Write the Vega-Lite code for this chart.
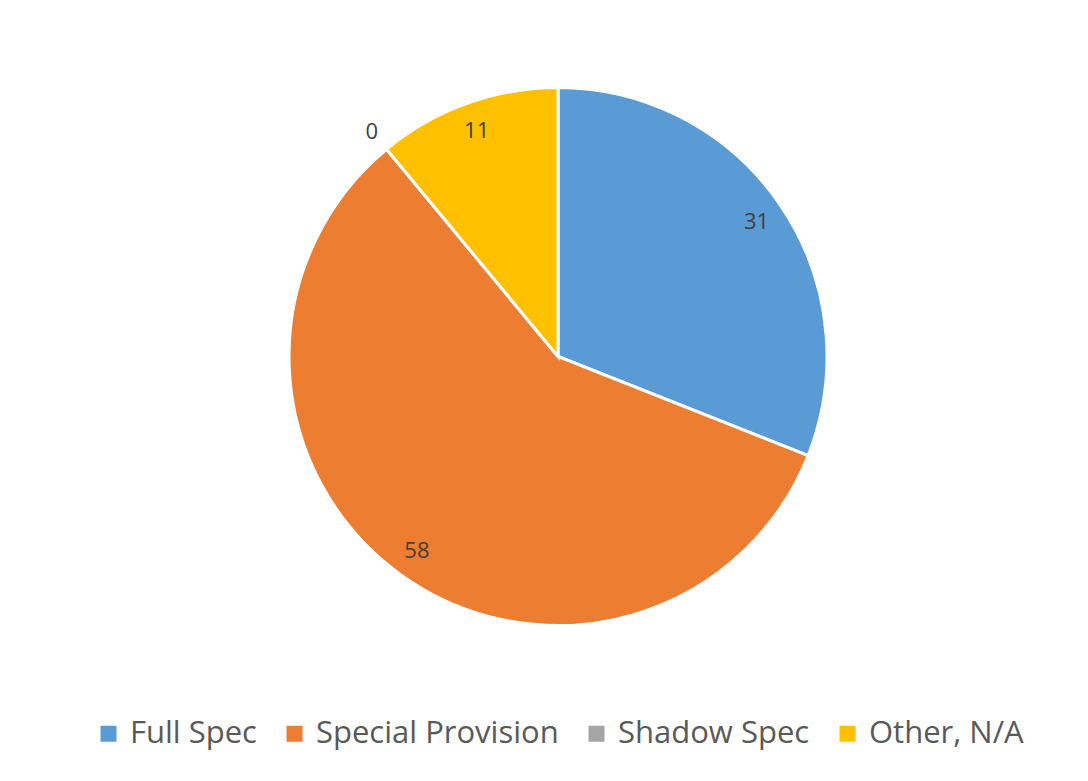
{
  "$schema": "https://vega.github.io/schema/vega-lite/v6.json",
  "autosize": {"type": "fit", "contains": "padding"},
  "width": 1088,
  "height": 781,
  "padding": {"left": 22, "top": 16, "right": 0, "bottom": 4},
  "background": "white",
  "config": {
    "view": {"stroke": null},
    "font": "Open Sans"
  },
  "data": {
    "values": [
      {"category": "Full Spec", "value": 31, "rank": 1},
      {"category": "Special Provision", "value": 58, "rank": 2},
      {"category": "Shadow Spec", "value": 0, "rank": 3},
      {"category": "Other, N/A", "value": 11, "rank": 4}
    ]
  },
  "encoding": {
    "theta": {"field": "value", "type": "quantitative", "stack": true},
    "order": {"field": "rank", "type": "quantitative"}
  },
  "layer": [
    {
      "mark": {
        "type": "arc",
        "outerRadius": 269,
        "stroke": "white",
        "strokeWidth": 3,
        "x": {"expr": "width/2 + 3"},
        "y": {"expr": "height/2 - 40"}
      },
      "encoding": {
        "color": {
          "field": "category",
          "type": "nominal",
          "scale": {
            "domain": ["Full Spec", "Special Provision", "Shadow Spec", "Other, N/A"],
            "range": ["#5B9BD5", "#ED7D31", "#A5A5A5", "#FFC000"]
          },
          "legend": {
            "title": null,
            "orient": "none",
            "legendX": 71,
            "legendY": 702,
            "direction": "horizontal",
            "columns": 4,
            "symbolType": "square",
            "symbolSize": 256,
            "symbolStrokeWidth": 0,
            "symbolOpacity": 1,
            "labelFontSize": 31,
            "labelFont": "Open Sans",
            "labelColor": "#595959",
            "labelLimit": 400,
            "labelOffset": 6,
            "columnPadding": 22
          }
        }
      }
    },
    {
      "transform": [{"filter": "datum.value > 0"}],
      "mark": {
        "type": "text",
        "radius": 240,
        "fontSize": 22,
        "color": "#404040",
        "x": {"expr": "width/2 + 3"},
        "y": {"expr": "height/2 - 40"}
      },
      "encoding": {
        "text": {"field": "value", "type": "quantitative"}
      }
    },
    {
      "mark": {
        "type": "text",
        "radius": 292,
        "fontSize": 22,
        "color": "#404040",
        "x": {"expr": "width/2 + 3"},
        "y": {"expr": "height/2 - 40"}
      },
      "encoding": {
        "text": {"field": "value", "type": "quantitative"},
        "opacity": {"condition": {"test": "datum.value == 0", "value": 1}, "value": 0}
      }
    }
  ]
}
